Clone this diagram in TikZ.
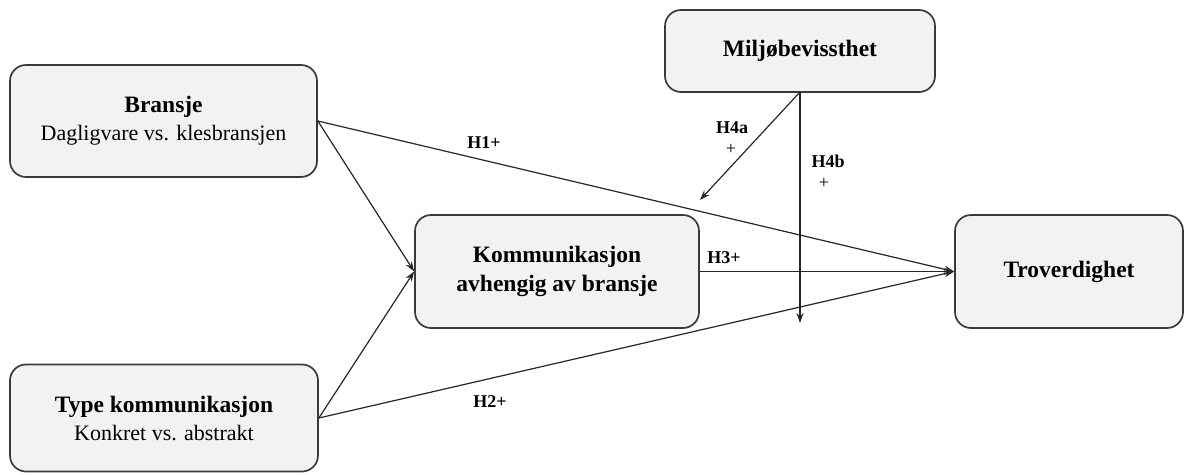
\documentclass[tikz,border=0pt]{standalone}
\usepackage{fontspec}
\setmainfont{Liberation Serif}
\usetikzlibrary{arrows.meta}
\definecolor{boxfill}{HTML}{F2F2F2}
\definecolor{boxline}{HTML}{3A3A3A}
\newcommand{\ttl}[1]{{\bfseries\fontsize{23.5}{28}\selectfont #1}}
\begin{document}
\begin{tikzpicture}[x=1pt,y=-1pt,
  varbox/.style={draw=boxline,line width=1.7pt,fill=boxfill,rounded corners=16pt,align=center,inner sep=0pt,font=\fontsize{22}{28}\selectfont},
  conn/.style={draw=black!85,line width=1.2pt,-{Stealth[length=10pt,width=7pt]}},
  lbl/.style={font=\bfseries\fontsize{18}{20}\selectfont,inner sep=0pt},
  plus/.style={font=\fontsize{18}{20}\selectfont,inner sep=0pt}]
\useasboundingbox (0,0) rectangle (1188,474);
\node[varbox,minimum width=307pt,minimum height=112pt] (bransje) at (163.5,121) {\ttl{Bransje}\\Dagligvare vs. klesbransjen};
\node[varbox,minimum width=308pt,minimum height=107pt] (type) at (164,418) {\ttl{Type kommunikasjon}\\Konkret vs. abstrakt};
\node[varbox,minimum width=284pt,minimum height=113pt,font=\bfseries\fontsize{23.5}{29}\selectfont] (komm) at (557,271.5) {Kommunikasjon\\avhengig av bransje};
\node[varbox,minimum width=228pt,minimum height=113pt] (trov) at (1069,271.5) {\ttl{Troverdighet}};
\node[varbox,minimum width=270pt,minimum height=82pt] (miljo) at (800,51) {\ttl{Miljøbevissthet}};
\coordinate (mtop) at (800,92);
\coordinate (h4aend) at (700,200);
\coordinate (h4bend) at (800,323);
\draw[conn] (bransje.east) -- (komm.west);
\draw[conn] (type.east) -- (komm.west);
\draw[conn] (bransje.east) -- (trov.west);
\draw[conn] (type.east) -- (trov.west);
\draw[conn] (komm.east) -- (trov.west);
\draw[conn] (mtop) -- (h4aend);
\draw[conn] (mtop) -- (h4bend);
\node[lbl] (h1) at (484,143) {H1+};
\node[lbl] (h2) at (490,402) {H2+};
\node[lbl] (h3) at (724,258) {H3+};
\node[lbl] (h4a) at (732,128) {H4a};
\node[plus] (h4ap) at (731,149) {+};
\node[lbl] (h4b) at (828,161) {H4b};
\node[plus] (h4bp) at (824,183) {+};
\end{tikzpicture}
\end{document}
